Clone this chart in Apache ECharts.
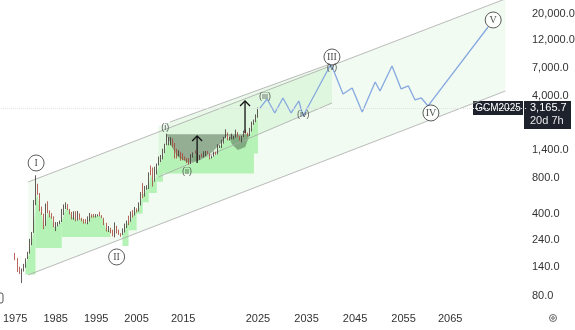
<!DOCTYPE html>
<html><head><meta charset="utf-8">
<script src="https://cdn.jsdelivr.net/npm/echarts/dist/echarts.min.js"></script>
<style>html,body{margin:0;padding:0;background:#fff;}#c{width:575px;height:330px;}</style>
</head><body><div id="c"></div>
<script>
// ---------------- data ----------------
const priceTicks = [20000, 12000, 7000, 4000, 1400, 800, 400, 240, 140, 80];
const yearTicks = [1975, 1985, 1995, 2005, 2015, 2025, 2035, 2045, 2055, 2065];
// bar eras of the time scale: [startYear, endYear, number of bars]
const eras = [[1971.5, 2005, 67], [2005, 2015, 23], [2015, 2025, 37], [2025, 2081, 133]];
const firstCandleYear = 1975;
// [open, close, low, high]
const candlesA = [
 [183,165,161,186],[165,140,128,168],[140,124,123,142],[124,134,103,137],[134,142,129,150],[142,165,139,167],
 [165,184,165,190],[184,226,183,245],[226,277,216,280],[277,512,275,524],[512,653,474,850],[653,590,580,720],
 [590,422,420,600],[422,400,391,460],[400,316,296,400],[316,447,315,489],[447,416,405,511],[416,382,373,427],
 [382,375,363,405],[375,309,307,380],[309,317,285,340],[317,327,313,340],[327,345,326,350],[345,390,340,440],
 [390,448,390,480],[448,484,440,500],[484,437,430,484],[437,410,395,440],[410,373,358,415],[373,401,356,420],
 [401,352,345,420],[352,386,350,423],[386,367,356,403],[367,353,345,370],[353,343,330,362],[343,333,330,360],
 [333,378,326,380],[378,391,343,407],[391,388,370,397],[388,383,371,399],[383,387,372,397],[387,387,380,396],
 [387,382,380,416],[382,369,367,390],[369,334,320,370],[334,290,283,335],[290,296,280,315],[296,288,273,304],
 [288,262,257,293],[262,290,252,338],[290,288,272,316],[288,272,264,293],[272,270,255,274],[270,279,265,300],
 [279,318,277,330],[318,347,302,350],[347,346,320,385],[346,416,342,418],[416,392,372,430],[392,438,387,457]
];
const candlesB = [
 [438,430,411,445],[430,495,418,500],[495,600,470,612],[600,590,543,730],[590,665,560,690],[665,670,640,700],
 [670,890,650,900],[890,880,850,1030],[880,760,681,990],[760,890,750,1005],[890,1040,865,1070],[1040,1110,1030,1227],
 [1110,1200,1100,1265],[1200,1335,1160,1430],[1335,1560,1310,1577],[1560,1600,1530,1920],[1600,1640,1530,1790],
 [1640,1715,1527,1795],[1715,1480,1470,1750],[1480,1330,1180,1600],[1330,1290,1180,1430],[1290,1310,1240,1390],
 [1310,1200,1130,1345]
];
const candlesC = [
 [1200,1180,1140,1307],[1180,1170,1140,1230],[1170,1140,1080,1190],[1140,1060,1046,1190],[1060,1230,1060,1285],
 [1230,1320,1200,1330],[1320,1310,1300,1380],[1310,1150,1125,1330],[1150,1250,1150,1265],[1250,1245,1210,1300],
 [1245,1280,1205,1360],[1280,1330,1240,1370],[1330,1300,1290,1370],[1300,1200,1160,1310],[1200,1230,1180,1250],
 [1230,1300,1225,1350],[1300,1290,1270,1350],[1290,1500,1280,1560],[1500,1510,1450,1530],[1510,1590,1450,1700],
 [1590,1780,1580,1800],[1780,1890,1760,2090],[1890,1730,1680,1960],[1730,1770,1680,1800],[1770,1790,1720,1920],
 [1790,1800,1720,1840],[1800,1950,1780,2080],[1950,1810,1800,1980],[1810,1730,1680,1830],[1730,1830,1620,1840],
 [1830,1980,1800,2040],[1980,1930,1900,2080],[1930,1840,1820,1960],[1840,2070,1830,2150],[2070,2330,2000,2430],
 [2330,2420,2280,2530],[2420,2630,2400,2800]
];
const candlesD = [[2630,3165,2620,3200]];
const lastPrice = 3165.7;
const ticker = 'GCM2025';
const countdown = '20d 7h';

// green stepped band: [fromYear, toYear, floorPrice]
const bandSteps = [
 [1978.0,1980.2,122],[1980.2,1986.8,205],[1986.8,1998.5,254],[2002.0,2003.3,213],[2003.3,2005.0,290],
 [2005.0,2006.7,400],[2006.7,2008.0,500],[2008.0,2009.5,600],[2009.5,2011.0,750],[2011.0,2024.5,880],[2024.5,2025.2,1300]
];
// cup & handle shading outlines [year, price]
const cupShape = [[2011.4,1900],[2021.0,1900],[2020.2,1632],[2018.9,1341],[2017.3,1147],[2015.7,1081],[2013.9,1216],[2012.7,1451]];
const handleShape = [[2021.0,1900],[2023.9,1900],[2023.3,1479],[2022.3,1395],[2021.5,1569]];
// channels [year, price]
const outerUpper = [[1978.2,745],[2076.5,26880]];
const outerLower = [[1978.2,120.7],[2076.5,4428]];
const innerUpper = [[2012.2,2413],[2040.0,7513]];
const innerLower = [[2009.7,822],[2040.4,3501]];
// projected path [year, price]
const projection = [[2025.4,3165],[2026.9,3786],[2028.5,2879],[2030.2,3861],[2031.9,2879],[2033.5,3640],[2034.4,2715],
 [2040.2,7513],[2042.7,4176],[2044.6,4699],[2046.7,2936],[2049.4,5284],[2050.4,4430],[2052.9,7224],[2054.8,4606],
 [2056.3,4885],[2057.7,3714],[2059.0,3861],[2060.4,3302],[2072.9,15503]];
// wave labels [text, year, price]
const majorWaves = [['I',1980.16,1081],['II',2000.06,171.7],['III',2040.4,8617],['IV',2061.0,2879],['V',2073.96,17783]];
const minorWaves = [['(i)',2011.17,2146],['(ii)',2015.53,907],['(iii)',2026.46,3938],['(iv)',2034.4,2768],['(v)',2040.4,6947]];
// arrows [year, fromPrice, toPrice]
const arrows = [[2016.87,1081,1835],[2023.27,1946,3640]];

// ---------------- build ----------------
const cats = [];
eras.forEach(([y0, y1, n]) => { for (let j = 0; j < n; j++) cats.push(y0 + j * (y1 - y0) / n); });
cats.push(eras[eras.length - 1][1]);
function idxOf(y) {
  let base = 0;
  for (let k = 0; k < eras.length; k++) {
    const [y0, y1, n] = eras[k];
    if (y < y1 || k === eras.length - 1) return base + (y - y0) * n / (y1 - y0);
    base += n;
  }
}
const labelMap = new Map();
yearTicks.forEach(Y => { const i = cats.findIndex(t => t >= Y - 1e-6); if (i >= 0) labelMap.set(i, Y); });

const allCandles = candlesA.concat(candlesB, candlesC, candlesD);
const startIdx = cats.findIndex(t => t >= firstCandleYear - 1e-6);
const candleData = cats.map(() => ['-', '-', '-', '-']);
allCandles.forEach((c, k) => { candleData[startIdx + k] = c; });

function pts(list) { return list.map(p => [idxOf(p[0]), p[1]]); }

const bandPolys = bandSteps.map(([y0, y1, floor]) => {
  const top = [];
  for (let k = 0; k < allCandles.length; k++) {
    const i = startIdx + k, t = cats[i];
    const step = cats[i + 1] - t;
    if (t >= y0 - step && t <= y1) {
      const c = allCandles[k];
      top.push([i, Math.max(Math.min(c[0], c[1]), floor)]);
    }
  }
  if (!top.length) return [];
  return top.concat([[top[top.length - 1][0], floor], [top[0][0], floor]]);
}).filter(p => p.length);

function polySeries(polys, fill, z) {
  return {
    type: 'custom', xAxisIndex: 1, yAxisIndex: 0, clip: true, silent: true, z: z,
    data: [[0, 100]],
    renderItem: (params, api) => ({
      type: 'group',
      children: polys.map(pl => ({ type: 'polygon', shape: { points: pl.map(p => api.coord(p)) }, style: { fill: fill } }))
    })
  };
}
function lineSeries(list, color, width, z) {
  return { type: 'line', xAxisIndex: 1, yAxisIndex: 0, data: pts(list), symbol: 'none', silent: true, z: z,
    lineStyle: { color: color, width: width }, animation: false };
}

const outerFill = [pts([outerUpper[0], outerUpper[1], outerLower[1], outerLower[0]])];
const innerFill = [pts([[innerLower[0][0], 2216], [innerLower[1][0], 7632], innerLower[1], innerLower[0]])];

const FONT = 'Liberation Sans, Arial, sans-serif';

const option = {
  animation: false,
  backgroundColor: '#ffffff',
  grid: { left: 0, right: 48, top: 0, bottom: 22, containLabel: false },
  xAxis: [
    { type: 'category', data: cats.map(t => t.toFixed(3)), boundaryGap: false,
      axisLine: { show: false }, axisTick: { show: false }, splitLine: { show: false },
      axisLabel: { interval: (i) => labelMap.has(i), formatter: (v, i) => labelMap.has(i) ? String(labelMap.get(i)) : '',
        color: '#333', fontSize: 11, fontFamily: FONT, margin: 5, hideOverlap: false } },
    { type: 'value', min: 0, max: cats.length - 1, show: false }
  ],
  yAxis: [{ type: 'log', logBase: 10, min: 63.2, max: 26300, show: false, splitLine: { show: false } }],
  series: [
    polySeries(outerFill, 'rgba(180,235,180,0.18)', 1),
    polySeries(innerFill, 'rgba(170,230,170,0.25)', 1),
    polySeries(bandPolys, '#b5f2b5', 1),
    polySeries([pts(cupShape), pts(handleShape)], 'rgba(85,115,85,0.55)', 2),
    lineSeries(outerUpper, '#a8a8a8', 0.8, 3),
    lineSeries(outerLower, '#a8a8a8', 0.8, 3),
    lineSeries(innerUpper, '#a8a8a8', 0.8, 3),
    lineSeries(innerLower, '#a8a8a8', 0.8, 3),
    { type: 'candlestick', xAxisIndex: 0, yAxisIndex: 0, data: candleData, barWidth: 1.2, silent: true, z: 4,
      itemStyle: { color: '#3d3330', color0: '#b5483a', borderColor: '#3d3330', borderColor0: '#a84034', borderWidth: 0.8 },
      markLine: { silent: true, symbol: ['none', 'none'], label: { show: false },
        lineStyle: { color: '#e2e2e2', type: 'dotted', width: 1 }, data: [{ yAxis: lastPrice }] } },
    lineSeries(projection, '#86a8e0', 1.3, 4),
    { type: 'custom', xAxisIndex: 1, yAxisIndex: 0, silent: true, z: 5, data: [[0, 100]],
      renderItem: (params, api) => ({ type: 'group', children: arrows.flatMap(([y, p0, p1]) => {
        const a = api.coord([idxOf(y), p0]), b = api.coord([idxOf(y), p1]);
        return [
          { type: 'line', shape: { x1: a[0], y1: a[1], x2: b[0], y2: b[1] }, style: { stroke: '#111', lineWidth: 1.3 } },
          { type: 'polyline', shape: { points: [[b[0] - 5, b[1] + 5], [b[0], b[1]], [b[0] + 5, b[1] + 5]] }, style: { stroke: '#111', lineWidth: 1.3, fill: null } }
        ]; }) }) },
    { type: 'scatter', xAxisIndex: 1, yAxisIndex: 0, silent: true, z: 6, symbol: 'circle', symbolSize: 16,
      itemStyle: { color: '#ffffff', borderColor: '#333', borderWidth: 1 },
      label: { show: true, position: 'inside', formatter: '{b}', color: '#222', fontSize: 10, fontFamily: 'Liberation Serif, serif' },
      data: majorWaves.map(([t, y, p]) => ({ name: t, value: [idxOf(y), p] })) },
    { type: 'scatter', xAxisIndex: 1, yAxisIndex: 0, silent: true, z: 6, symbol: 'circle', symbolSize: 2,
      itemStyle: { color: 'rgba(0,0,0,0)' },
      label: { show: true, position: 'inside', formatter: '{b}', color: '#333', fontSize: 9, fontFamily: FONT },
      data: minorWaves.map(([t, y, p]) => ({ name: t, value: [idxOf(y), p] })) }
  ]
};

const chart = echarts.init(document.getElementById('c'));
chart.setOption(option);

// price scale labels and last-price tag, placed through the y scale
const fmt = v => v.toLocaleString('en-US', { minimumFractionDigits: 1, maximumFractionDigits: 1 });
const g = [];
priceTicks.forEach(v => {
  const y = chart.convertToPixel({ yAxisIndex: 0 }, v);
  g.push({ type: 'text', x: 532, y: y, silent: true, style: { text: fmt(v), fill: '#333', font: '11px ' + FONT, textAlign: 'left', textVerticalAlign: 'middle', align: 'left', verticalAlign: 'middle' } });
});
const yp = chart.convertToPixel({ yAxisIndex: 0 }, lastPrice);
g.push({ type: 'rect', silent: true, shape: { x: 473, y: yp - 7, width: 50, height: 14 }, style: { fill: '#1e222d' } });
g.push({ type: 'text', silent: true, x: 498, y: yp, style: { text: ticker, fill: '#fff', font: '10px ' + FONT, textAlign: 'center', textVerticalAlign: 'middle', align: 'center', verticalAlign: 'middle' } });
g.push({ type: 'rect', silent: true, shape: { x: 524, y: yp - 7, width: 47, height: 28 }, style: { fill: '#1e222d' } });
g.push({ type: 'text', silent: true, x: 530, y: yp, style: { text: fmt(lastPrice), fill: '#fff', font: '11px ' + FONT, textAlign: 'left', textVerticalAlign: 'middle', align: 'left', verticalAlign: 'middle' } });
g.push({ type: 'text', silent: true, x: 530, y: yp + 13, style: { text: countdown, fill: '#e8e8e8', font: '11px ' + FONT, textAlign: 'left', textVerticalAlign: 'middle', align: 'left', verticalAlign: 'middle' } });
g.push({ type: 'circle', silent: true, shape: { cx: 553, cy: 318, r: 3.5 }, style: { fill: null, stroke: '#666', lineWidth: 1 } });
g.push({ type: 'circle', silent: true, shape: { cx: 553, cy: 318, r: 1.3 }, style: { fill: null, stroke: '#666', lineWidth: 1 } });
g.push({ type: 'rect', silent: true, shape: { x: -4, y: 293, width: 7, height: 10, r: 2 }, style: { fill: null, stroke: '#555', lineWidth: 1 } });
chart.setOption({ graphic: { elements: g } });
</script></body></html>
